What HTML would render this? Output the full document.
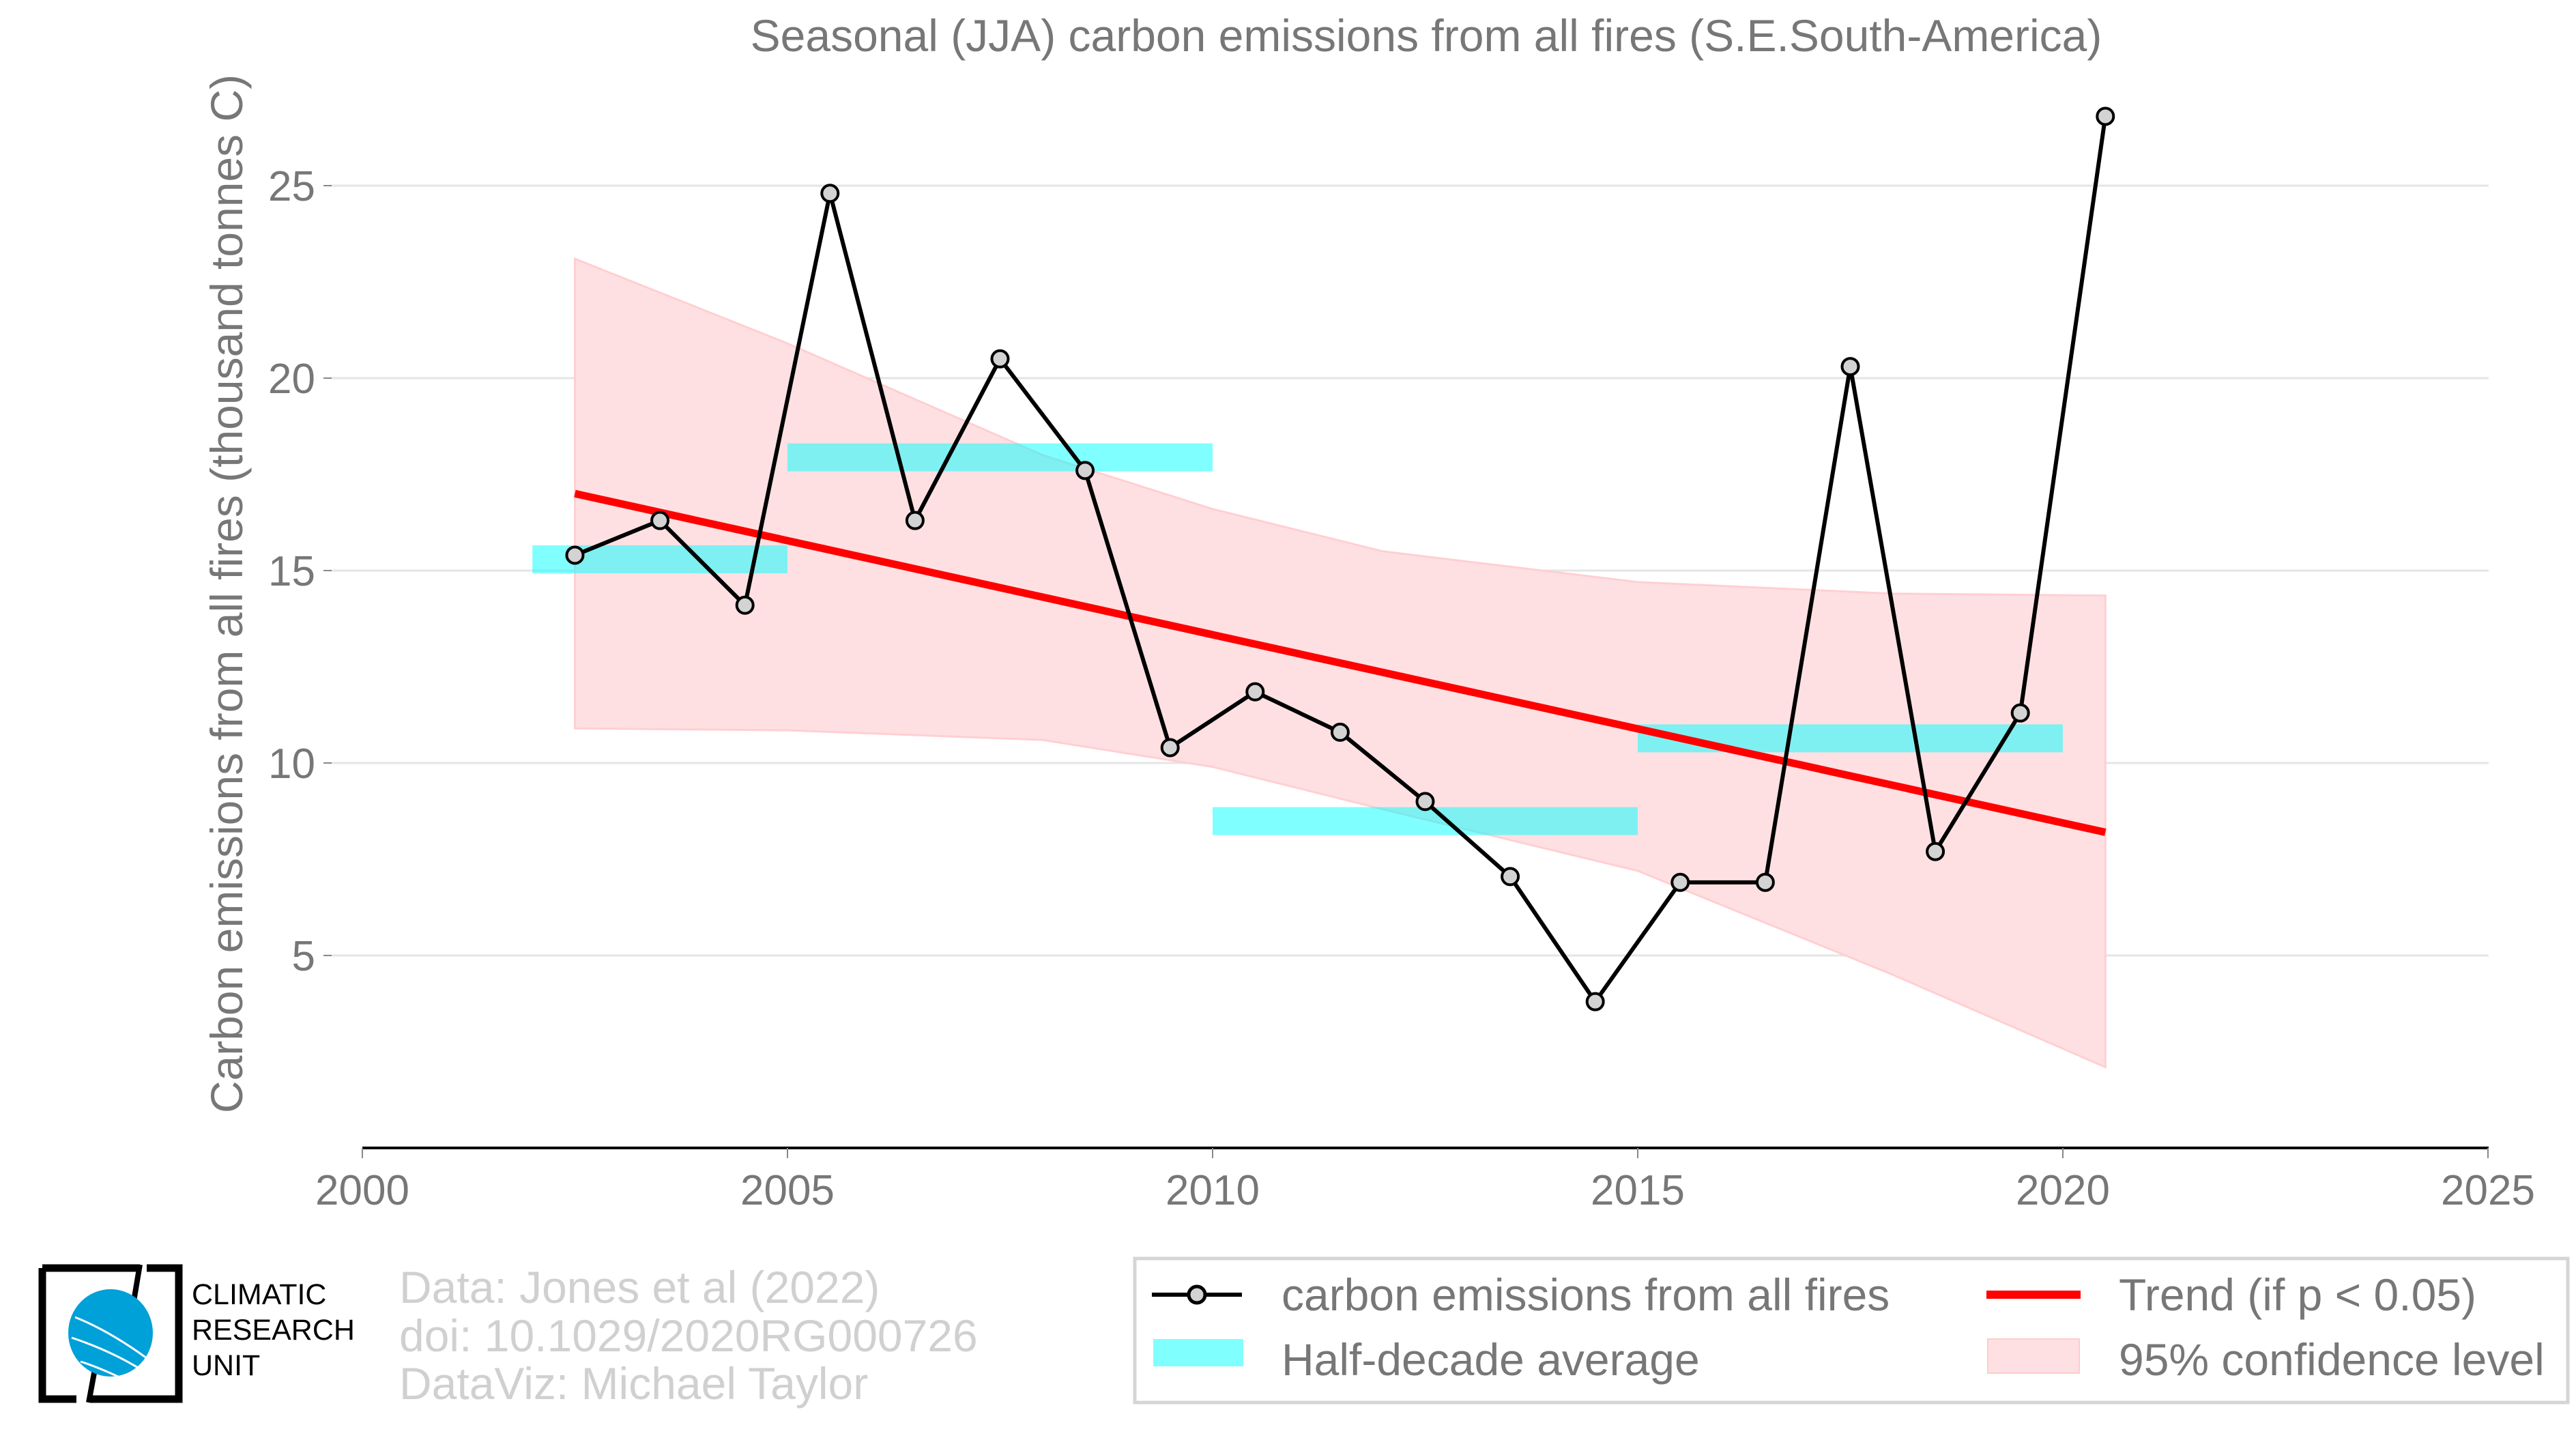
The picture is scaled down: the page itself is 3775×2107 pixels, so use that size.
<!DOCTYPE html>
<html><head><meta charset="utf-8"><style>
html,body{margin:0;padding:0;background:#fff;}
body{width:3775px;height:2102px;overflow:hidden;font-family:"Liberation Sans",sans-serif;}
</style></head><body>
<svg id="chart" width="3775" height="2102" xmlns="http://www.w3.org/2000/svg" font-family="Liberation Sans, sans-serif">
<text x="2090" y="75" font-size="66" fill="#777" text-anchor="middle">Seasonal (JJA) carbon emissions from all fires (S.E.South-America)</text>
<text transform="translate(355,870) rotate(-90)" font-size="66" fill="#777" text-anchor="middle">Carbon emissions from all fires (thousand tonnes C)</text>
<g id="grid"></g><g id="band"></g><g id="bars"></g><g id="trend"></g><g id="series"></g><g id="axes"></g>

<g>
<path d="M62,1858 H205 M62,1858 V2050 H112 M215,1858 H262 V2050 H133" stroke="#000" stroke-width="11" fill="none"/>
<line x1="205" y1="1853" x2="187" y2="1960" stroke="#000" stroke-width="8"/>
<line x1="130" y1="2055" x2="142" y2="1990" stroke="#000" stroke-width="8"/>
<ellipse cx="162" cy="1953" rx="62" ry="64" fill="#00a0d8"/>
<path d="M110,1930 Q160,1950 215,1990 M105,1960 Q165,1980 212,2010 M118,1995 Q150,2005 200,2030" stroke="#fff" stroke-width="3" fill="none"/>
<text x="281" y="1911" font-size="43" fill="#000">CLIMATIC</text>
<text x="281" y="1963" font-size="43" fill="#000">RESEARCH</text>
<text x="281" y="2015" font-size="43" fill="#000">UNIT</text>
</g>
<g font-size="66" fill="#d0d0d0">
<text x="585" y="1909">Data: Jones et al (2022)</text>
<text x="585" y="1980">doi: 10.1029/2020RG000726</text>
<text x="585" y="2050">DataViz: Michael Taylor</text>
</g>
<g>
<rect x="1663" y="1844" width="2100" height="211" fill="#fff" stroke="#d5d5d5" stroke-width="5"/>
<g>
<line x1="1688" y1="1897" x2="1820" y2="1897" stroke="#000" stroke-width="6"/>
<circle cx="1754" cy="1897" r="12" fill="#d3d3d3" stroke="#000" stroke-width="5"/>
<text x="1878" y="1920" font-size="66" fill="#777">carbon emissions from all fires</text></g>
<g>
<rect x="1690" y="1962" width="132" height="40" fill="#80ffff"/>
<text x="1878" y="2015" font-size="66" fill="#777">Half-decade average</text></g>
<g>
<line x1="2911" y1="1897" x2="3049" y2="1897" stroke="#f00" stroke-width="12"/>
<text x="3105" y="1920" font-size="66" fill="#777">Trend (if p &lt; 0.05)</text></g>
<g>
<rect x="2913" y="1962" width="134" height="50" fill="#ffe0e2" stroke="#ffcccc" stroke-width="2"/>
<text x="3105" y="2015" font-size="66" fill="#777">95% confidence level</text></g>
</g>
</svg>
<script>
const years=[2002.5,2003.5,2004.5,2005.5,2006.5,2007.5,2008.5,2009.5,2010.5,2011.5,2012.5,2013.5,2014.5,2015.5,2016.5,2017.5,2018.5,2019.5,2020.5];
const emissions=[15.4,16.3,14.1,24.8,16.3,20.5,17.6,10.4,11.85,10.8,9.0,7.05,3.8,6.9,6.9,20.3,7.7,11.3,26.8];
const halfStart=[2002,2005,2010,2015];
const halfEnd=[2005,2010,2015,2020];
const halfAvg=[15.3,17.95,8.5,10.65];
const trendX=[2002.5,2020.5];
const trendY=[17.0,8.2];
const ciX=[2002.5,2005,2008,2010,2012,2015,2018,2020.5];
const ciUpper=[23.1,20.9,18.0,16.6,15.5,14.7,14.4,14.35];
const ciLower=[10.9,10.85,10.6,9.9,8.8,7.2,4.5,2.1];
const xTicks=[2000,2005,2010,2015,2020,2025];
const yTicks=[5,10,15,20,25];
const NS='http://www.w3.org/2000/svg';
const X=v=>531+(v-2000)*124.6;
const Y=v=>836-(v-15)*56.4;
function mk(tag,attrs,parent){const e=document.createElementNS(NS,tag);for(const k in attrs)e.setAttribute(k,attrs[k]);document.getElementById(parent).appendChild(e);return e;}
yTicks.forEach(t=>{
 const l=mk('line',{x1:484,x2:3647,y1:Y(t),y2:Y(t),stroke:'#e5e5e5','stroke-width':3},'grid');
 
 
 const tk=mk('line',{x1:474,x2:486,y1:Y(t),y2:Y(t),stroke:'#888','stroke-width':2},'axes');
 
 
 const tx=mk('text',{x:462,y:Y(t)+22,'font-size':62,fill:'#777','text-anchor':'end'},'axes');tx.textContent=t;
 
 
});
let d='M'+ciX.map((x,i)=>X(x)+','+Y(ciUpper[i])).join(' L');
d+=' L'+ciX.slice().reverse().map((x,i)=>X(x)+','+Y(ciLower[ciX.length-1-i])).join(' L')+' Z';
const band=mk('path',{d:d,fill:'#ffe0e2',stroke:'#ffcfd2','stroke-width':3},'band');


halfAvg.forEach((v,i)=>{
 const r=mk('rect',{x:X(halfStart[i]),width:X(halfEnd[i])-X(halfStart[i]),y:Y(v)-20,height:41,fill:'#00ffff','fill-opacity':0.5},'bars');
 
 
});
const tr=mk('line',{x1:X(trendX[0]),y1:Y(trendY[0]),x2:X(trendX[1]),y2:Y(trendY[1]),stroke:'#f00','stroke-width':11},'trend');


const pl=mk('polyline',{points:years.map((x,i)=>X(x)+','+Y(emissions[i])).join(' '),fill:'none',stroke:'#000','stroke-width':6,'stroke-linejoin':'round'},'series');


years.forEach((x,i)=>{
 const c=mk('circle',{cx:X(x),cy:Y(emissions[i]),r:12,fill:'#d3d3d3',stroke:'#000','stroke-width':4},'series');
 
 
});
const ax=mk('line',{x1:531,x2:3647,y1:1682,y2:1682,stroke:'#000','stroke-width':4},'axes');


xTicks.forEach(t=>{
 const tk=mk('line',{x1:X(t),x2:X(t),y1:1682,y2:1697,stroke:'#888','stroke-width':2},'axes');
 
 
 const tx=mk('text',{x:X(t),y:1765,'font-size':62,fill:'#777','text-anchor':'middle'},'axes');tx.textContent=t;
 
 
});
</script>
</body></html>
